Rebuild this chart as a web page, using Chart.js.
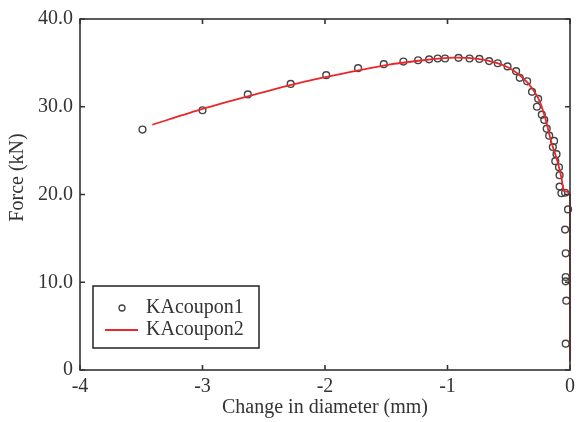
<!DOCTYPE html>
<html>
<head>
<meta charset="utf-8">
<script src="https://cdn.jsdelivr.net/npm/chart.js@4"></script>
<style>
  html, body { margin: 0; padding: 0; background: #fff; }
  #wrap { width: 580px; height: 422px; }
</style>
</head>
<body>
<div id="wrap"><canvas id="forceChart" width="580" height="422"></canvas></div>
<script>
// KAcoupon1 (open circles)
const coupon1X = [-3.49, -3.0, -2.63, -2.28, -1.99, -1.73, -1.52, -1.36, -1.24, -1.15, -1.08, -1.02,
  -0.91, -0.82, -0.74, -0.66, -0.59, -0.51, -0.44, -0.41, -0.35, -0.31, -0.26, -0.27, -0.23, -0.21,
  -0.19, -0.17, -0.13, -0.14, -0.11, -0.12, -0.09, -0.085, -0.085, -0.07, -0.04,
  -0.016, -0.04, -0.035, -0.035, -0.035, -0.03, -0.035];
const coupon1Y = [27.4, 29.6, 31.4, 32.6, 33.6, 34.4, 34.85, 35.15, 35.3, 35.4, 35.5, 35.5,
  35.57, 35.5, 35.45, 35.2, 34.96, 34.6, 34.05, 33.3, 32.9, 31.7, 30.9, 30.0, 29.1, 28.5,
  27.5, 26.7, 26.1, 25.4, 24.6, 23.8, 23.1, 22.2, 20.9, 20.15, 20.2,
  18.3, 16.0, 13.3, 10.6, 10.1, 7.9, 3.0];

// KAcoupon2 (red line)
const coupon2X = [-3.41, -3.0, -2.6, -2.2, -1.8, -1.5, -1.2, -0.95, -0.75, -0.6, -0.5, -0.42,
  -0.35, -0.3, -0.25, -0.2, -0.155, -0.105, -0.07, -0.05, -0.02, 0, 0];
const coupon2Y = [27.95, 29.75, 31.3, 32.75, 33.95, 34.75, 35.3, 35.6, 35.45, 35.0, 34.45, 33.7,
  32.8, 31.9, 30.7, 28.6, 26.1, 23.9, 21.9, 20.45, 20.3, 20.0, 1.0];

const seriesNames = ['KAcoupon1', 'KAcoupon2'];
const xTickLabels = ['-4', '-3', '-2', '-1', '0'];
const yTickLabels = ['0', '10.0', '20.0', '30.0', '40.0'];
const yTitle = 'Force (kN)';

const textColor = '#333';
const serif = 'Liberation Serif';

function toPoints(xs, ys) {
  return xs.map((x, i) => ({ x: x, y: ys[i] }));
}

// box round the plot with inward ticks on all four sides, legend, y title
const frameAndLegend = {
  id: 'frameAndLegend',
  afterDatasetsDraw(chart) {
    const ctx = chart.ctx;
    const a = chart.chartArea;
    const xs = chart.scales.x;
    const ys = chart.scales.y;
    const tick = 5;

    ctx.save();
    ctx.strokeStyle = '#333';
    ctx.lineWidth = 1.6;
    ctx.strokeRect(a.left, a.top, a.right - a.left, a.bottom - a.top);

    ctx.beginPath();
    xs.ticks.forEach(t => {
      const px = xs.getPixelForValue(t.value);
      ctx.moveTo(px, a.bottom); ctx.lineTo(px, a.bottom - tick);
      ctx.moveTo(px, a.top); ctx.lineTo(px, a.top + tick);
    });
    ys.ticks.forEach(t => {
      const py = ys.getPixelForValue(t.value);
      ctx.moveTo(a.left, py); ctx.lineTo(a.left + tick, py);
      ctx.moveTo(a.right, py); ctx.lineTo(a.right - tick, py);
    });
    ctx.stroke();

    // legend box, bottom left inside the plot
    const bx = a.left + 13, by = a.bottom - 84, bw = 166, bh = 62;
    ctx.lineWidth = 1.5;
    ctx.strokeStyle = '#222';
    ctx.strokeRect(bx, by, bw, bh);

    const ds = chart.data.datasets;
    ctx.font = '20px "' + serif + '"';
    ctx.fillStyle = textColor;
    ctx.textBaseline = 'middle';
    ctx.textAlign = 'left';

    const row1 = by + 22, row2 = by + 44;
    ctx.beginPath();
    ctx.arc(bx + 29, row1, 3, 0, Math.PI * 2);
    ctx.strokeStyle = ds[0].borderColor;
    ctx.lineWidth = 1.3;
    ctx.stroke();
    ctx.fillText(ds[0].label, bx + 53, row1);

    ctx.beginPath();
    ctx.moveTo(bx + 12, row2);
    ctx.lineTo(bx + 45, row2);
    ctx.strokeStyle = ds[1].borderColor;
    ctx.lineWidth = 1.8;
    ctx.stroke();
    ctx.fillText(ds[1].label, bx + 53, row2);

    // y title sits a bit above the middle of the axis in the original
    ctx.translate(18, (a.top + a.bottom) / 2 - 17);
    ctx.rotate(-Math.PI / 2);
    ctx.textAlign = 'center';
    ctx.fillText(yTitle, 0, 0);
    ctx.restore();
  }
};

new Chart(document.getElementById('forceChart'), {
  type: 'scatter',
  data: {
    datasets: [
      {
        label: seriesNames[0],
        data: toPoints(coupon1X, coupon1Y),
        showLine: false,
        pointRadius: 3.4,
        pointBorderWidth: 1.4,
        borderColor: '#444',
        backgroundColor: 'rgba(0,0,0,0)',
        clip: false,
        order: 1
      },
      {
        label: seriesNames[1],
        data: toPoints(coupon2X, coupon2Y),
        showLine: true,
        tension: 0.25,
        pointRadius: 0,
        borderWidth: 1.8,
        borderColor: '#e8282a',
        clip: false,
        order: 0
      }
    ]
  },
  options: {
    responsive: false,
    animation: false,
    layout: { padding: { top: 18, right: 8, left: 0, bottom: 0 } },
    plugins: {
      legend: { display: false },
      tooltip: { enabled: false }
    },
    scales: {
      x: {
        type: 'linear',
        min: -4,
        max: 0,
        afterFit: (scale) => { scale.height = 52; },
        grid: { display: false, drawTicks: false },
        border: { display: false },
        ticks: {
          stepSize: 1,
          padding: 5,
          color: textColor,
          font: { family: serif, size: 20 },
          callback: (v, i) => xTickLabels[i]
        },
        title: {
          display: true,
          text: 'Change in diameter (mm)',
          color: textColor,
          font: { family: serif, size: 20 },
          padding: { top: 0, bottom: 2 }
        }
      },
      y: {
        type: 'linear',
        min: 0,
        max: 40,
        afterFit: (scale) => { scale.width = 80; },
        grid: { display: false, drawTicks: false },
        border: { display: false },
        ticks: {
          stepSize: 10,
          padding: 7,
          color: textColor,
          font: { family: serif, size: 20 },
          callback: (v, i) => yTickLabels[i]
        },
        title: { display: false }
      }
    }
  },
  plugins: [frameAndLegend]
});
</script>
</body>
</html>
